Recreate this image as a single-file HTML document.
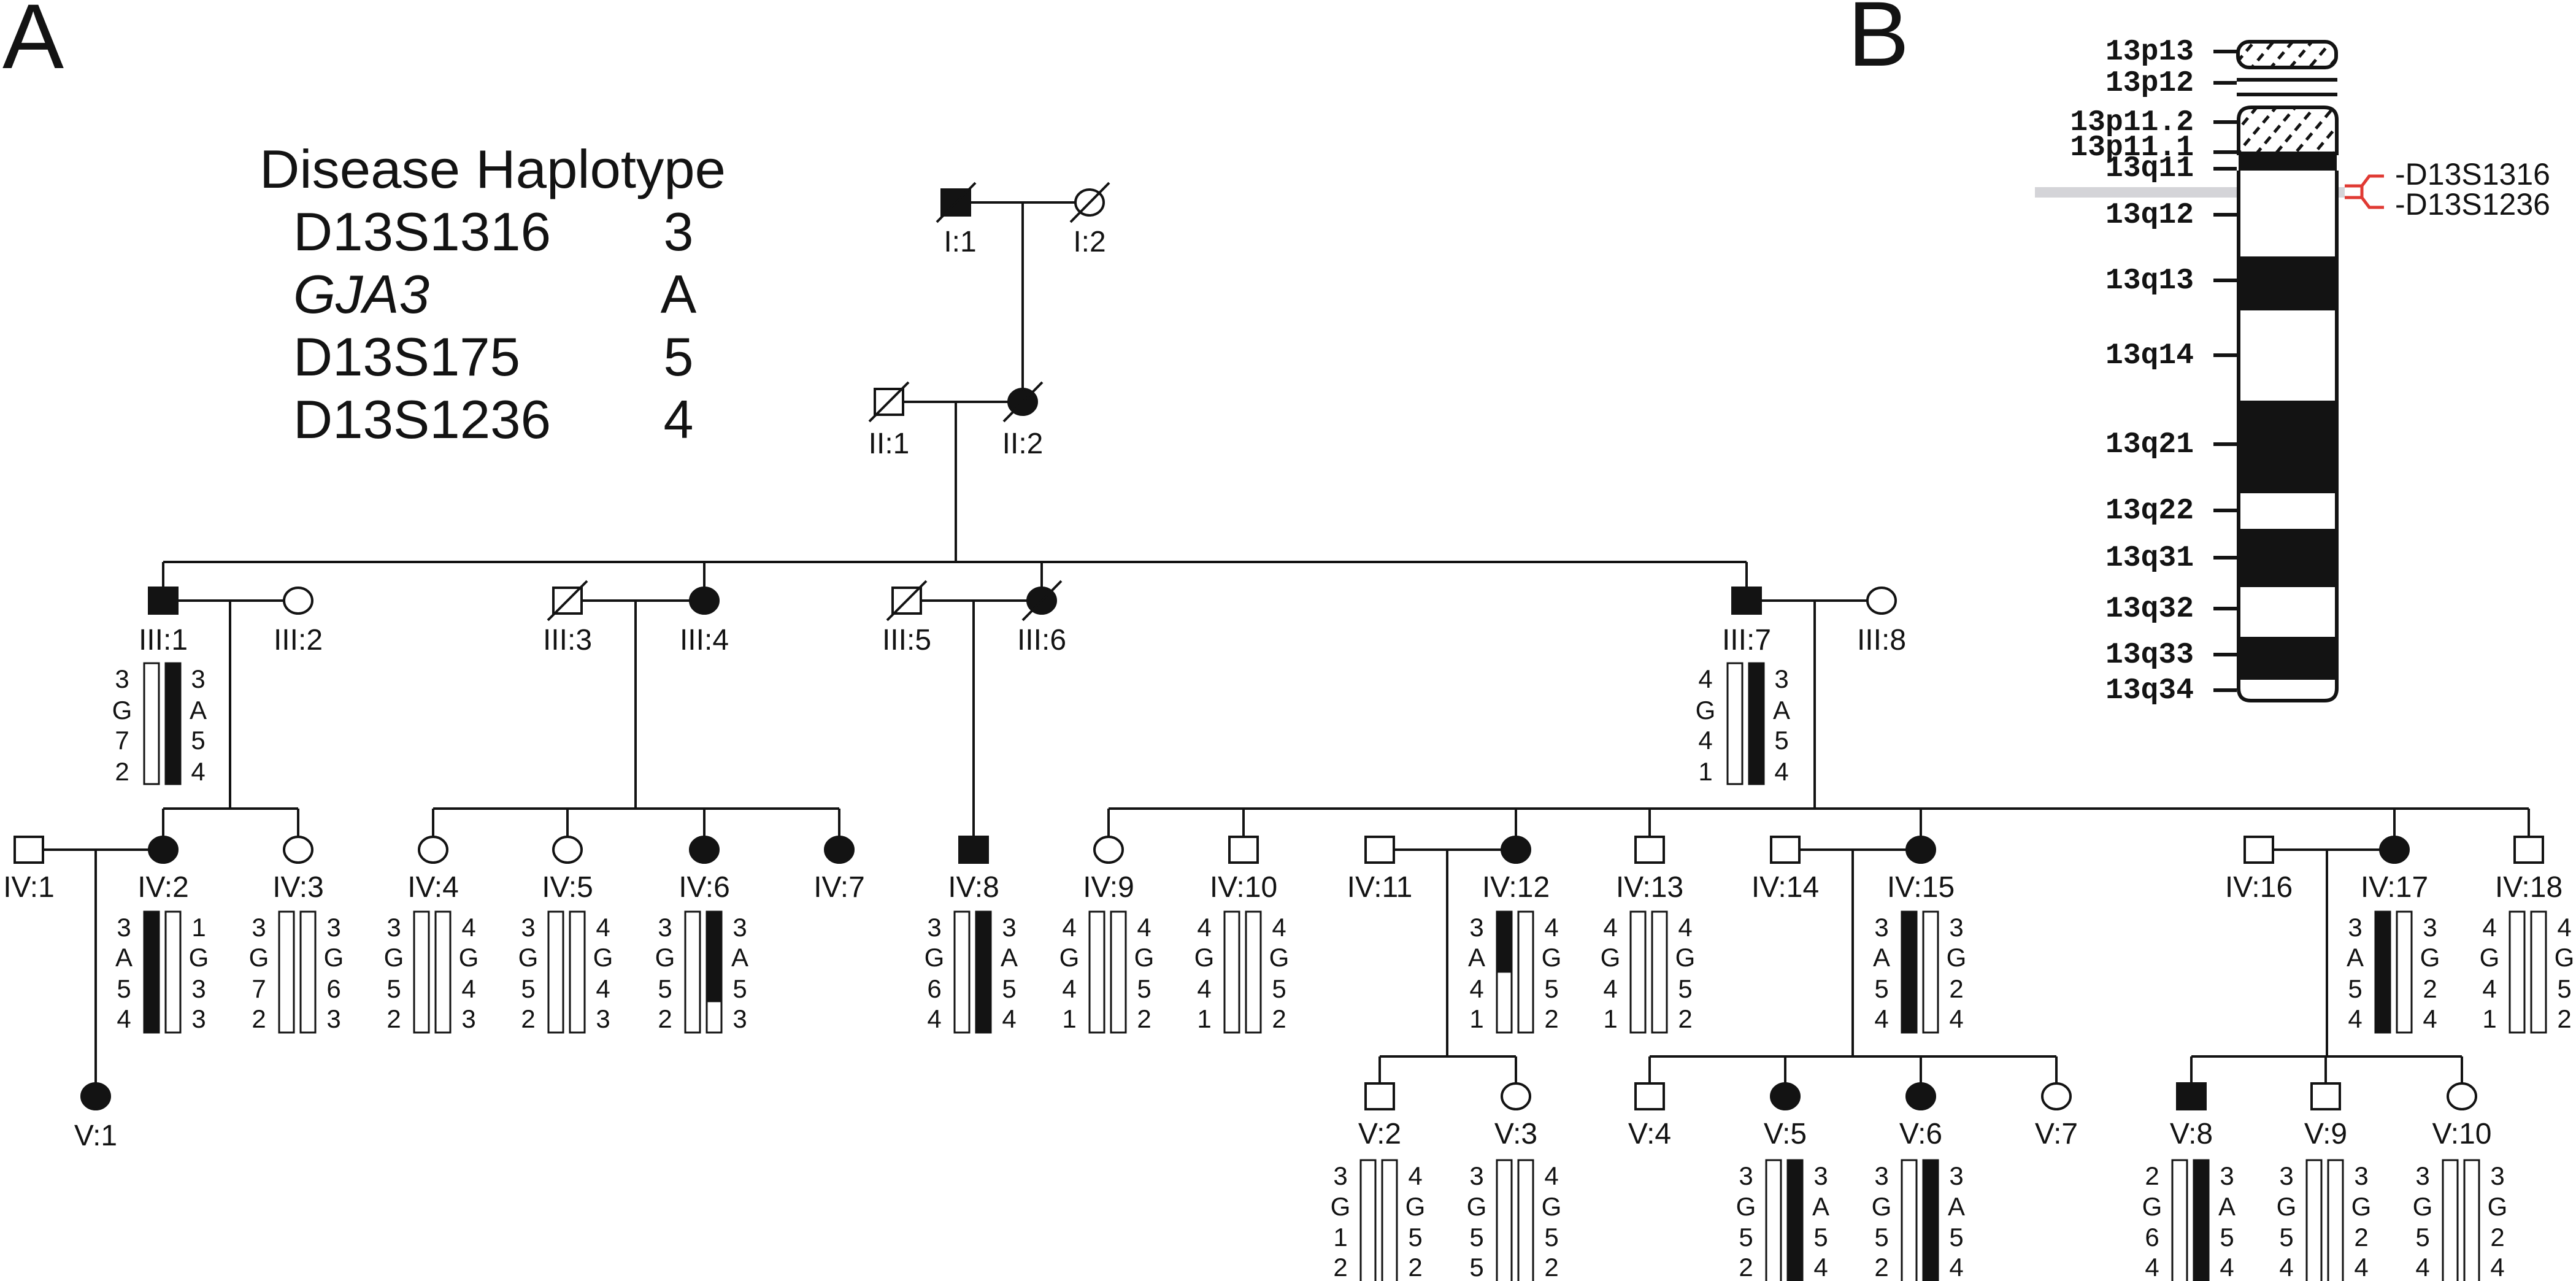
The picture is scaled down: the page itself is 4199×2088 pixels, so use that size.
<!DOCTYPE html>
<html><head><meta charset="utf-8"><style>html,body{margin:0;padding:0;background:#fff}svg{display:block}</style></head><body>
<svg xmlns="http://www.w3.org/2000/svg" width="4199" height="2088" viewBox="0 0 4199 2088" font-family="Liberation Sans, Arial, sans-serif" fill="#131313">
<defs>
<pattern id="h" patternUnits="userSpaceOnUse" width="24" height="24" patternTransform="rotate(40)"><rect width="24" height="24" fill="#fff"/><rect x="0" y="0" width="5" height="14" fill="#131313"/></pattern>
</defs>
<rect width="4199" height="2088" fill="#fff"/>
<text x="4" y="111" font-size="150">A</text>
<text x="3012" y="107" font-size="150">B</text>
<g font-size="88">
<text x="423" y="306" textLength="760" lengthAdjust="spacingAndGlyphs">Disease Haplotype</text>
<text x="478" y="408" textLength="420" lengthAdjust="spacingAndGlyphs">D13S1316</text>
<text x="478" y="510" font-style="italic" textLength="222" lengthAdjust="spacingAndGlyphs">GJA3</text>
<text x="478" y="612" textLength="370" lengthAdjust="spacingAndGlyphs">D13S175</text>
<text x="478" y="714" textLength="420" lengthAdjust="spacingAndGlyphs">D13S1236</text>
<g text-anchor="middle"><text x="1106" y="408">3</text><text x="1106" y="510">A</text><text x="1106" y="612">5</text><text x="1106" y="714">4</text></g>
</g>
<g stroke="#131313" stroke-width="4" fill="none">
<path d="M1581 330H1753M1667 330V634M1472 655H1644M1558 655V916M266 916H2847M266 916V958M1148 916V958M1698 916V958M2847 916V958"/>
<path d="M289 979H463M948 979H1125M1501 979H1675M2870 979H3044M375 979V1318M1036 979V1318M1587 979V1364M2958 979V1318"/>
<path d="M266 1318H486M266 1318V1364M486 1318V1364M706 1318H1368M706 1318V1364M925 1318V1364M1148 1318V1364M1368 1318V1364M1807 1318H4122M1807 1318V1364M2027 1318V1364M2471 1318V1364M2689 1318V1364M3131 1318V1364M3903 1318V1364M4122 1318V1364"/>
<path d="M70 1385H243M2272 1385H2448M2933 1385H3108M3705 1385H3880M156 1385V1766M2359 1385V1722M3020 1385V1722M3793 1385V1722"/>
<path d="M2249 1722H2471M2249 1722V1766M2471 1722V1766M2689 1722H3352M2689 1722V1766M2910 1722V1766M3131 1722V1766M3352 1722V1766M3572 1722H4013M3572 1722V1766M3791 1722V1766M4013 1722V1766"/>
</g>
<g stroke="#131313" stroke-width="4">
<rect x="1535" y="309" width="46" height="42" fill="#131313"/>
<rect x="1426" y="634" width="46" height="42" fill="#fff"/>
<rect x="243" y="958" width="46" height="42" fill="#131313"/>
<rect x="902" y="958" width="46" height="42" fill="#fff"/>
<rect x="1455" y="958" width="46" height="42" fill="#fff"/>
<rect x="2824" y="958" width="46" height="42" fill="#131313"/>
<rect x="24" y="1364" width="46" height="42" fill="#fff"/>
<rect x="1564" y="1364" width="46" height="42" fill="#131313"/>
<rect x="2004" y="1364" width="46" height="42" fill="#fff"/>
<rect x="2226" y="1364" width="46" height="42" fill="#fff"/>
<rect x="2666" y="1364" width="46" height="42" fill="#fff"/>
<rect x="2887" y="1364" width="46" height="42" fill="#fff"/>
<rect x="3659" y="1364" width="46" height="42" fill="#fff"/>
<rect x="4099" y="1364" width="46" height="42" fill="#fff"/>
<rect x="2226" y="1766" width="46" height="42" fill="#fff"/>
<rect x="2666" y="1766" width="46" height="42" fill="#fff"/>
<rect x="3549" y="1766" width="46" height="42" fill="#131313"/>
<rect x="3768" y="1766" width="46" height="42" fill="#fff"/>
<ellipse cx="1776" cy="330" rx="23" ry="21" fill="#fff"/>
<ellipse cx="1667" cy="655" rx="23" ry="21" fill="#131313"/>
<ellipse cx="486" cy="979" rx="23" ry="21" fill="#fff"/>
<ellipse cx="1148" cy="979" rx="23" ry="21" fill="#131313"/>
<ellipse cx="1698" cy="979" rx="23" ry="21" fill="#131313"/>
<ellipse cx="3067" cy="979" rx="23" ry="21" fill="#fff"/>
<ellipse cx="266" cy="1385" rx="23" ry="21" fill="#131313"/>
<ellipse cx="486" cy="1385" rx="23" ry="21" fill="#fff"/>
<ellipse cx="706" cy="1385" rx="23" ry="21" fill="#fff"/>
<ellipse cx="925" cy="1385" rx="23" ry="21" fill="#fff"/>
<ellipse cx="1148" cy="1385" rx="23" ry="21" fill="#131313"/>
<ellipse cx="1368" cy="1385" rx="23" ry="21" fill="#131313"/>
<ellipse cx="1807" cy="1385" rx="23" ry="21" fill="#fff"/>
<ellipse cx="2471" cy="1385" rx="23" ry="21" fill="#131313"/>
<ellipse cx="3131" cy="1385" rx="23" ry="21" fill="#131313"/>
<ellipse cx="3903" cy="1385" rx="23" ry="21" fill="#131313"/>
<ellipse cx="156" cy="1787" rx="23" ry="21" fill="#131313"/>
<ellipse cx="2471" cy="1787" rx="23" ry="21" fill="#fff"/>
<ellipse cx="2910" cy="1787" rx="23" ry="21" fill="#131313"/>
<ellipse cx="3131" cy="1787" rx="23" ry="21" fill="#131313"/>
<ellipse cx="3352" cy="1787" rx="23" ry="21" fill="#fff"/>
<ellipse cx="4013" cy="1787" rx="23" ry="21" fill="#fff"/>
<path fill="none" d="M1527 362L1590 298M1745 362L1808 298M1417 687L1481 623M1636 687L1699 623M893 1011L957 947M1446 1011L1510 947M1667 1011L1730 947"/>
</g>
<g font-size="48" text-anchor="middle">
<text x="1565" y="410">I:1</text><text x="1776" y="410">I:2</text>
<text x="1449" y="739">II:1</text><text x="1667" y="739">II:2</text>
<text x="266" y="1059">III:1</text><text x="486" y="1059">III:2</text><text x="925" y="1059">III:3</text><text x="1148" y="1059">III:4</text><text x="1478" y="1059">III:5</text><text x="1698" y="1059">III:6</text><text x="2847" y="1059">III:7</text><text x="3067" y="1059">III:8</text>
<text x="47" y="1462">IV:1</text><text x="266" y="1462">IV:2</text><text x="486" y="1462">IV:3</text><text x="706" y="1462">IV:4</text><text x="925" y="1462">IV:5</text><text x="1148" y="1462">IV:6</text><text x="1368" y="1462">IV:7</text><text x="1587" y="1462">IV:8</text><text x="1807" y="1462">IV:9</text><text x="2027" y="1462">IV:10</text><text x="2249" y="1462">IV:11</text><text x="2471" y="1462">IV:12</text><text x="2689" y="1462">IV:13</text><text x="2910" y="1462">IV:14</text><text x="3131" y="1462">IV:15</text><text x="3682" y="1462">IV:16</text><text x="3903" y="1462">IV:17</text><text x="4122" y="1462">IV:18</text>
<text x="156" y="1867">V:1</text><text x="2249" y="1864">V:2</text><text x="2471" y="1864">V:3</text><text x="2689" y="1864">V:4</text><text x="2910" y="1864">V:5</text><text x="3131" y="1864">V:6</text><text x="3352" y="1864">V:7</text><text x="3572" y="1864">V:8</text><text x="3791" y="1864">V:9</text><text x="4013" y="1864">V:10</text>
</g>
<g stroke="#131313" stroke-width="3" fill="#fff">
<rect x="235" y="1081" width="24" height="197"/><rect x="270" y="1081" width="24" height="197" fill="#131313"/>
<rect x="2816" y="1081" width="24" height="197"/><rect x="2851" y="1081" width="24" height="197" fill="#131313"/>
<rect x="235" y="1486" width="24" height="197" fill="#131313"/><rect x="270" y="1486" width="24" height="197"/>
<rect x="455" y="1486" width="24" height="197"/><rect x="490" y="1486" width="24" height="197"/>
<rect x="675" y="1486" width="24" height="197"/><rect x="710" y="1486" width="24" height="197"/>
<rect x="894" y="1486" width="24" height="197"/><rect x="929" y="1486" width="24" height="197"/>
<rect x="1117" y="1486" width="24" height="197"/><rect x="1152" y="1486" width="24" height="197"/><rect x="1152" y="1486" width="24" height="146" fill="#131313"/>
<rect x="1556" y="1486" width="24" height="197"/><rect x="1591" y="1486" width="24" height="197" fill="#131313"/>
<rect x="1776" y="1486" width="24" height="197"/><rect x="1811" y="1486" width="24" height="197"/>
<rect x="1996" y="1486" width="24" height="197"/><rect x="2031" y="1486" width="24" height="197"/>
<rect x="2440" y="1486" width="24" height="197"/><rect x="2440" y="1486" width="24" height="98" fill="#131313"/><rect x="2475" y="1486" width="24" height="197"/>
<rect x="2658" y="1486" width="24" height="197"/><rect x="2693" y="1486" width="24" height="197"/>
<rect x="3100" y="1486" width="24" height="197" fill="#131313"/><rect x="3135" y="1486" width="24" height="197"/>
<rect x="3872" y="1486" width="24" height="197" fill="#131313"/><rect x="3907" y="1486" width="24" height="197"/>
<rect x="4091" y="1486" width="24" height="197"/><rect x="4126" y="1486" width="24" height="197"/>
<rect x="2218" y="1891" width="24" height="210"/><rect x="2253" y="1891" width="24" height="210"/>
<rect x="2440" y="1891" width="24" height="210"/><rect x="2475" y="1891" width="24" height="210"/>
<rect x="2879" y="1891" width="24" height="210"/><rect x="2914" y="1891" width="24" height="210" fill="#131313"/>
<rect x="3100" y="1891" width="24" height="210"/><rect x="3135" y="1891" width="24" height="210" fill="#131313"/>
<rect x="3541" y="1891" width="24" height="210"/><rect x="3576" y="1891" width="24" height="210" fill="#131313"/>
<rect x="3760" y="1891" width="24" height="210"/><rect x="3795" y="1891" width="24" height="210"/>
<rect x="3982" y="1891" width="24" height="210"/><rect x="4017" y="1891" width="24" height="210"/>
</g>
<g font-size="42" text-anchor="middle">
<text x="199" y="1121">3</text><text x="199" y="1172">G</text><text x="199" y="1221">7</text><text x="199" y="1272">2</text>
<text x="323" y="1121">3</text><text x="323" y="1172">A</text><text x="323" y="1221">5</text><text x="323" y="1272">4</text>
<text x="2780" y="1121">4</text><text x="2780" y="1172">G</text><text x="2780" y="1221">4</text><text x="2780" y="1272">1</text>
<text x="2904" y="1121">3</text><text x="2904" y="1172">A</text><text x="2904" y="1221">5</text><text x="2904" y="1272">4</text>
<text x="202" y="1526">3</text><text x="202" y="1575">A</text><text x="202" y="1626">5</text><text x="202" y="1675">4</text><text x="324" y="1526">1</text><text x="324" y="1575">G</text><text x="324" y="1626">3</text><text x="324" y="1675">3</text>
<text x="422" y="1526">3</text><text x="422" y="1575">G</text><text x="422" y="1626">7</text><text x="422" y="1675">2</text><text x="544" y="1526">3</text><text x="544" y="1575">G</text><text x="544" y="1626">6</text><text x="544" y="1675">3</text>
<text x="642" y="1526">3</text><text x="642" y="1575">G</text><text x="642" y="1626">5</text><text x="642" y="1675">2</text><text x="764" y="1526">4</text><text x="764" y="1575">G</text><text x="764" y="1626">4</text><text x="764" y="1675">3</text>
<text x="861" y="1526">3</text><text x="861" y="1575">G</text><text x="861" y="1626">5</text><text x="861" y="1675">2</text><text x="983" y="1526">4</text><text x="983" y="1575">G</text><text x="983" y="1626">4</text><text x="983" y="1675">3</text>
<text x="1084" y="1526">3</text><text x="1084" y="1575">G</text><text x="1084" y="1626">5</text><text x="1084" y="1675">2</text><text x="1206" y="1526">3</text><text x="1206" y="1575">A</text><text x="1206" y="1626">5</text><text x="1206" y="1675">3</text>
<text x="1523" y="1526">3</text><text x="1523" y="1575">G</text><text x="1523" y="1626">6</text><text x="1523" y="1675">4</text><text x="1645" y="1526">3</text><text x="1645" y="1575">A</text><text x="1645" y="1626">5</text><text x="1645" y="1675">4</text>
<text x="1743" y="1526">4</text><text x="1743" y="1575">G</text><text x="1743" y="1626">4</text><text x="1743" y="1675">1</text><text x="1865" y="1526">4</text><text x="1865" y="1575">G</text><text x="1865" y="1626">5</text><text x="1865" y="1675">2</text>
<text x="1963" y="1526">4</text><text x="1963" y="1575">G</text><text x="1963" y="1626">4</text><text x="1963" y="1675">1</text><text x="2085" y="1526">4</text><text x="2085" y="1575">G</text><text x="2085" y="1626">5</text><text x="2085" y="1675">2</text>
<text x="2407" y="1526">3</text><text x="2407" y="1575">A</text><text x="2407" y="1626">4</text><text x="2407" y="1675">1</text><text x="2529" y="1526">4</text><text x="2529" y="1575">G</text><text x="2529" y="1626">5</text><text x="2529" y="1675">2</text>
<text x="2625" y="1526">4</text><text x="2625" y="1575">G</text><text x="2625" y="1626">4</text><text x="2625" y="1675">1</text><text x="2747" y="1526">4</text><text x="2747" y="1575">G</text><text x="2747" y="1626">5</text><text x="2747" y="1675">2</text>
<text x="3067" y="1526">3</text><text x="3067" y="1575">A</text><text x="3067" y="1626">5</text><text x="3067" y="1675">4</text><text x="3189" y="1526">3</text><text x="3189" y="1575">G</text><text x="3189" y="1626">2</text><text x="3189" y="1675">4</text>
<text x="3839" y="1526">3</text><text x="3839" y="1575">A</text><text x="3839" y="1626">5</text><text x="3839" y="1675">4</text><text x="3961" y="1526">3</text><text x="3961" y="1575">G</text><text x="3961" y="1626">2</text><text x="3961" y="1675">4</text>
<text x="4058" y="1526">4</text><text x="4058" y="1575">G</text><text x="4058" y="1626">4</text><text x="4058" y="1675">1</text><text x="4180" y="1526">4</text><text x="4180" y="1575">G</text><text x="4180" y="1626">5</text><text x="4180" y="1675">2</text>
<text x="2185" y="1931">3</text><text x="2185" y="1981">G</text><text x="2185" y="2031">1</text><text x="2185" y="2080">2</text><text x="2307" y="1931">4</text><text x="2307" y="1981">G</text><text x="2307" y="2031">5</text><text x="2307" y="2080">2</text>
<text x="2407" y="1931">3</text><text x="2407" y="1981">G</text><text x="2407" y="2031">5</text><text x="2407" y="2080">5</text><text x="2529" y="1931">4</text><text x="2529" y="1981">G</text><text x="2529" y="2031">5</text><text x="2529" y="2080">2</text>
<text x="2846" y="1931">3</text><text x="2846" y="1981">G</text><text x="2846" y="2031">5</text><text x="2846" y="2080">2</text><text x="2968" y="1931">3</text><text x="2968" y="1981">A</text><text x="2968" y="2031">5</text><text x="2968" y="2080">4</text>
<text x="3067" y="1931">3</text><text x="3067" y="1981">G</text><text x="3067" y="2031">5</text><text x="3067" y="2080">2</text><text x="3189" y="1931">3</text><text x="3189" y="1981">A</text><text x="3189" y="2031">5</text><text x="3189" y="2080">4</text>
<text x="3508" y="1931">2</text><text x="3508" y="1981">G</text><text x="3508" y="2031">6</text><text x="3508" y="2080">4</text><text x="3630" y="1931">3</text><text x="3630" y="1981">A</text><text x="3630" y="2031">5</text><text x="3630" y="2080">4</text>
<text x="3727" y="1931">3</text><text x="3727" y="1981">G</text><text x="3727" y="2031">5</text><text x="3727" y="2080">4</text><text x="3849" y="1931">3</text><text x="3849" y="1981">G</text><text x="3849" y="2031">2</text><text x="3849" y="2080">4</text>
<text x="3949" y="1931">3</text><text x="3949" y="1981">G</text><text x="3949" y="2031">5</text><text x="3949" y="2080">4</text><text x="4071" y="1931">3</text><text x="4071" y="1981">G</text><text x="4071" y="2031">2</text><text x="4071" y="2080">4</text>
</g>
<rect x="3317" y="305" width="505" height="17" fill="#d4d4d8"/>
<g stroke="#131313" stroke-width="6">
<rect x="3648" y="68" width="160" height="42" rx="18" fill="url(#h)"/>
<path d="M3646 130H3810M3646 154H3810" fill="none"/>
<path d="M3649 250V195Q3649 175 3670 175H3788Q3809 175 3809 195V250Z" fill="url(#h)"/>
<rect x="3649" y="248" width="160" height="30" fill="#131313" stroke="none"/>
<path d="M3652 280H3806M3652 287H3806" stroke="#fff" stroke-width="4" stroke-dasharray="10 12"/>
<path d="M3649 278V1122Q3649 1142 3669 1142H3789Q3809 1142 3809 1122V278" fill="#fff"/>
</g>
<g fill="#131313">
<rect x="3652" y="418" width="154" height="88"/>
<rect x="3652" y="653" width="154" height="151"/>
<rect x="3652" y="862" width="154" height="95"/>
<rect x="3652" y="1038" width="154" height="70"/>
</g>
<path d="M3608 84H3646M3608 135H3646M3608 199H3646M3608 248H3646M3608 275H3646M3608 350H3646M3608 457H3646M3608 579H3646M3608 724H3646M3608 832H3646M3608 909H3646M3608 992H3646M3608 1067H3646M3608 1125H3646" stroke="#131313" stroke-width="6"/>
<g font-family="Liberation Mono, DejaVu Sans Mono, monospace" font-weight="bold" font-size="48" text-anchor="end">
<text x="3576" y="97">13p13</text><text x="3576" y="148">13p12</text><text x="3576" y="212">13p11.2</text><text x="3576" y="253">13p11.1</text><text x="3576" y="287">13q11</text><text x="3576" y="363">13q12</text><text x="3576" y="470">13q13</text><text x="3576" y="592">13q14</text><text x="3576" y="737">13q21</text><text x="3576" y="845">13q22</text><text x="3576" y="922">13q31</text><text x="3576" y="1005">13q32</text><text x="3576" y="1080">13q33</text><text x="3576" y="1138">13q34</text>
</g>
<path d="M3886 287H3862L3850 303H3822M3822 322H3850L3862 338H3886M3850 303V322" stroke="#e03a33" stroke-width="5" fill="none"/>
<g font-size="50"><text x="3904" y="301">-D13S1316</text><text x="3904" y="350">-D13S1236</text></g>
</svg>
</body></html>
